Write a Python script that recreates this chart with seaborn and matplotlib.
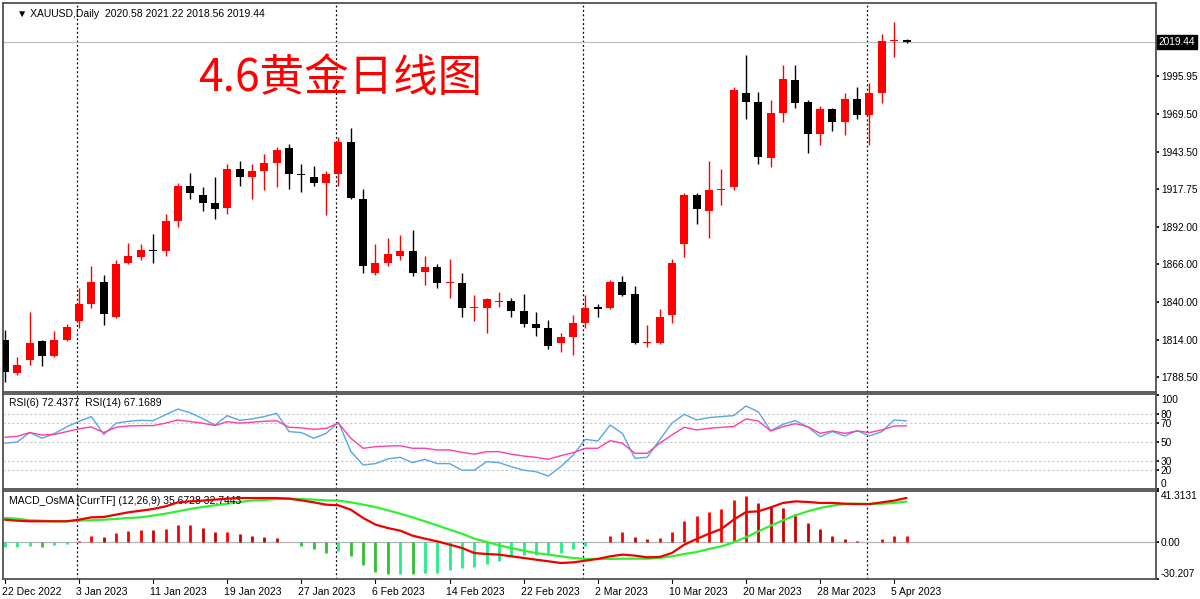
import numpy as np
import pandas as pd
import matplotlib
matplotlib.use("Agg")
import matplotlib.pyplot as plt
import matplotlib.transforms as mtrans
import seaborn as sns

sns.set_theme(style="white")
plt.rcParams['font.family'] = ['Liberation Sans', 'DejaVu Sans', 'Noto Sans CJK SC']

opens = [1814,1791,1800,1813,1803,1814,1827,1839,1854,1830,1867,1871,1876,1875,1896,1920,1914,1908,1905,1932,
         1926,1930,1936,1946,1928,1926,1922,1928,1950,1911,1860,1867,1872,1875,1861,1864,1853,1853,1836,1836,
         1840,1841,1834,1825,1822,1812,1816,1826,1837,1836,1854,1846,1812,1812,1831,1880,1914,1903,1917,1919,
         1984,1978,1939,1970,1993,1978,1956,1973,1964,1980,1969,1984,2020,2020.58]
highs = [1821,1802,1833,1814,1820,1825,1850,1865,1859,1869,1881,1880,1887,1901,1922,1929,1919,1926,1935,1937,
         1935,1942,1947,1949,1935,1934,1930,1954,1960,1918,1880,1884,1886,1890,1872,1866,1870,1860,1845,1843,
         1847,1843,1846,1833,1828,1819,1831,1845,1839,1855,1858,1851,1824,1835,1870,1915,1915,1937,1932,1988,
         2010,1985,1979,2003,2003,1979,1975,1974,1984,1988,1991,2025,2033,2021.22]
lows = [1785,1790,1797,1796,1802,1813,1822,1836,1824,1829,1866,1869,1867,1872,1892,1911,1903,1897,1901,1920,
        1911,1917,1919,1918,1916,1920,1900,1920,1911,1860,1859,1865,1869,1858,1852,1850,1843,1830,1827,1819,
        1837,1830,1823,1817,1808,1806,1804,1822,1830,1835,1844,1811,1809,1811,1826,1871,1894,1884,1907,1917,
        1966,1935,1933,1964,1974,1943,1948,1958,1955,1966,1948,1977,2009,2018.56]
closes = [1792,1797,1812,1803,1814,1823,1839,1854,1832,1866,1872,1876,1875,1896,1920,1915,1908,1904,1932,1926,
          1930,1936,1945,1928,1927.5,1922,1928,1950,1912,1865,1867,1873,1875,1860,1864,1853,1853.5,1836,1836.5,1842,
          1841,1834,1825,1822,1810,1816,1826,1836,1835,1854,1845,1812,1812.5,1830,1867,1914,1904,1917,1918,1986,
          1978,1940,1970,1994,1977,1956,1973,1964,1980,1969,1984,2020,2020.5,2019.44]

rsi6 = [48.6,50,60,54,59,66,72,77,58,70,72,73,72.6,79,85,81,75,68,78,73,74.5,77,80.5,61,60,54,59,71,40,25.5,
        27,32,33.7,28,31.6,27,27,20,20,29,28,23.7,20,18.4,13.8,23.7,36,52.8,51,68,59,32.6,33.7,52,70,79.4,
        73.4,75.9,77,78,88.3,82,62,68.8,72.7,66,55.7,61,56.4,62,56.4,61,73.4,72.4377]
rsi14 = [55,56,60,57.4,58,61,64,66,60,65.6,67,67.4,67.4,70,73.4,71.6,70,67.4,71.6,70,71,72,72.6,65.6,65,63.4,
         64.4,70,54,43.3,45,45.7,46,43.3,43.3,41.5,41.5,39,37,39.7,39.7,37,35,33.7,31.6,35.4,38.6,43.3,43.3,
         51.4,48.6,38,38,48.6,57.4,65.6,62.8,64.5,65.6,66.3,74.5,72.3,61.7,66.3,69.5,66.3,59.2,61.7,59.2,61.7,
         60,62.8,67,67.1689]

macd = [18,17.2,16.7,16.7,16.7,16.7,18,19.9,20.2,22.1,24,25.3,26.7,28.8,32.1,32.9,33.5,34.3,35.1,35.6,35.6,35.6,
        35.6,35.1,33.7,32.1,30.2,29.7,26.1,19.4,14,11.2,9.1,5,2.6,0.4,-2.3,-5,-9.1,-9.9,-10.4,-11.8,-13.1,-14.5,
        -15.8,-17.2,-16.7,-15.3,-13.9,-11.8,-10.4,-11.2,-12.6,-12.3,-9.1,-2.3,2.3,6.6,10.4,18,24.2,24.8,28,31.6,
        32.9,32.4,31.6,31.6,31,30.7,30.7,32.1,33.5,35.6728]
signal = [19.4,18.8,17.5,17.2,16.7,16.7,17.2,17.5,18,18.6,19.4,19.9,21.3,22.9,24.8,26.7,28.3,29.7,31,32.4,33.5,34,
          34.8,35.1,34.8,34.3,33.7,33.5,32.1,30.2,28.3,25.6,22.9,19.9,16.7,13.4,9.9,6.6,2.6,-0.1,-2.8,-5,-7.2,-9.1,
          -10.4,-11.8,-13.1,-13.9,-13.9,-13.9,-13.7,-13.7,-13.7,-13.1,-11.8,-9.9,-8.3,-5.8,-3.7,-0.4,3.7,8.5,13.1,
          17.5,21.5,24.8,27.5,29.4,30.7,31,30.7,31,31.6,32.7443]
osma = [-4.3,-4.3,-3.5,-4.3,-2.7,-1.6,1.0,4.6,4.1,7.3,8.7,10.0,9.5,10.8,13.3,13.3,11.4,8.1,8.1,6.5,5.1,3.8,3.3,0,
        -3.5,-6.2,-8.9,-7.6,-11.6,-19.2,-24.4,-26,-26,-26.5,-25.2,-25.2,-22.5,-21.1,-20.6,-17.9,-15.2,-11.6,-10.3,
        -10.3,-9.8,-9.2,-6.2,-3.5,0,5.1,7.9,4.1,2.4,3.3,7.9,16.8,20.9,24.4,26.3,34.4,37.1,31.7,28.2,27.1,22.8,15.4,
        10.8,4.6,2.7,0.3,0,1.9,4.6,5.1]

date_labels = ["22 Dec 2022","3 Jan 2023","11 Jan 2023","19 Jan 2023","27 Jan 2023","6 Feb 2023","14 Feb 2023",
               "22 Feb 2023","2 Mar 2023","10 Mar 2023","20 Mar 2023","28 Mar 2023","5 Apr 2023"]
date_idx = [0,6,12,18,24,30,36,42,48,54,60,66,72]
sep_idx = [6,27,47,70]
price_ticks = [1788.50,1814.00,1840.00,1866.00,1892.00,1917.75,1943.50,1969.50,1995.95]
price_tick_labels = ["1788.50","1814.00","1840.00","1866.00","1892.00","1917.75","1943.50","1969.50","1995.95"]
rsi_ticks = [100,80,70,50,30,20,0]
macd_ticks = [41.3131, 0, -30.207]
macd_tick_labels = ["41.3131", "0.00", "-30.207"]
last_price = 2019.44

n = len(closes)
idx = np.arange(n)
df = pd.DataFrame(dict(i=idx, o=opens, h=highs, l=lows, c=closes, rsi6=rsi6, rsi14=rsi14,
                       macd=macd, signal=signal, osma=osma))

W, H = 1200, 599
fig = plt.figure(figsize=(12, 5.99), dpi=100)
def ax_px(x0, y0, x1, y1):
    return fig.add_axes([x0 / W, 1 - y1 / H, (x1 - x0) / W, (y1 - y0) / H])

ax1 = ax_px(3, 3, 1156, 392)
ax2 = ax_px(3, 394, 1156, 489)
ax3 = ax_px(3, 491, 1156, 579)
XL = (-0.16, 93.2)
tfs = 7.3
for ax in (ax1, ax2, ax3):
    ax.set_xlim(*XL)
    ax.set_facecolor("white")
    ax.set_xticks([])
    for s in ax.spines.values():
        s.set_color("#505050"); s.set_linewidth(1.3)
    ax.yaxis.tick_right()
    ax.tick_params(axis='y', length=2, labelsize=tfs, colors='black', pad=1.5)
    for k in sep_idx:
        ax.axvline(k - 0.2, color='black', lw=0.9, ls=(0, (1.5, 2)), zorder=1)

# candles
up = df.c >= df.o
colors = np.where(up, '#ff0000', '#000000')
ax1.vlines(df.i, df.l, df.h, colors=colors, lw=1.0, zorder=3)
body_h = (df.c - df.o).abs().clip(lower=0.6)
ax1.bar(df.i, body_h, bottom=np.minimum(df.o, df.c), width=0.65, color=colors, zorder=4, linewidth=0)
ax1.set_ylim(1778.2, 2046)
ax1.set_yticks(price_ticks)
ax1.set_yticklabels(price_tick_labels)
ax1.axhline(last_price, color='#c0c0c0', lw=0.9, zorder=2)
ax1.text(1.0025, last_price, "2019.44", transform=mtrans.blended_transform_factory(ax1.transAxes, ax1.transData),
         ha='left', va='center', fontsize=tfs, color='white',
         bbox=dict(boxstyle='square,pad=0.2', fc='black', ec='black'), clip_on=False)
ax1.text(0.012, 0.985, "▼ XAUUSD,Daily  2020.58 2021.22 2018.56 2019.44", transform=ax1.transAxes,
         ha='left', va='top', fontsize=7.5, color='black', family=['Liberation Sans', 'DejaVu Sans'])
ax1.text(195 / 1153, 1 - 75 / 389, "4.6黄金日线图", transform=ax1.transAxes, ha='left', va='center',
         fontsize=32, color='#ff0000', family=['Noto Sans CJK SC', 'DejaVu Sans'])

# RSI
ax2.set_ylim(0, 101)
for lv in [80, 70, 50, 30, 20]:
    ax2.axhline(lv, color='#c8c8c8', lw=0.8, ls=(0, (2, 2)), zorder=1)
sns.lineplot(data=df, x='i', y='rsi6', ax=ax2, color='#5aa5e6', lw=1.0, zorder=3)
sns.lineplot(data=df, x='i', y='rsi14', ax=ax2, color='#ff3da8', lw=1.0, zorder=3)
ax2.set_xlim(*XL); ax2.set_xlabel(""); ax2.set_ylabel("")
ax2.set_yticks(rsi_ticks)
ax2.set_yticklabels([str(t) for t in rsi_ticks])
tl = ax2.get_yticklabels()
tl[0].set_va('top'); tl[-1].set_va('bottom')
ax2.text(0.005, 0.96, "RSI(6) 72.4377  RSI(14) 67.1689", transform=ax2.transAxes, ha='left', va='top',
         fontsize=7.5, color='black')

# MACD
ax3.set_ylim(-30.207, 41.3131)
ax3.axhline(0, color='#b4b4b4', lw=0.9, zorder=1)
osma_arr = np.array(osma)
diff = np.diff(np.concatenate([[osma_arr[0]], osma_arr]))
hcols = []
for v, d in zip(osma_arr, diff):
    if v >= 0:
        hcols.append('#ff0000' if d >= 0 else '#cc0000')
    else:
        hcols.append('#22ee88' if d >= 0 else '#30c030')
ax3.vlines(df.i, 0, df.osma, colors=hcols, lw=2.0, zorder=2)
sns.lineplot(data=df, x='i', y='signal', ax=ax3, color='#33ee33', lw=1.6, zorder=3)
sns.lineplot(data=df, x='i', y='macd', ax=ax3, color='#ee0000', lw=1.6, zorder=4)
ax3.set_xlim(*XL); ax3.set_xlabel(""); ax3.set_ylabel("")
ax3.set_yticks(macd_ticks)
ax3.set_yticklabels(macd_tick_labels)
tl = ax3.get_yticklabels()
tl[0].set_va('top'); tl[-1].set_va('bottom')
ax3.text(0.005, 0.94, "MACD_OsMA [CurrTF] (12,26,9) 35.6728 32.7443", transform=ax3.transAxes, ha='left',
         va='top', fontsize=7.5, color='black')

# date labels
bt = mtrans.blended_transform_factory(ax3.transData, ax3.transAxes)
for k, lab in zip(date_idx, date_labels):
    ax3.plot([k, k], [0, -0.05], transform=bt, color='black', lw=0.8, clip_on=False)
    ax3.text(k - 0.25, -0.09, lab, transform=bt, ha='left', va='top', fontsize=7.5, color='black')

fig.savefig("out.png", dpi=100, facecolor='white')
